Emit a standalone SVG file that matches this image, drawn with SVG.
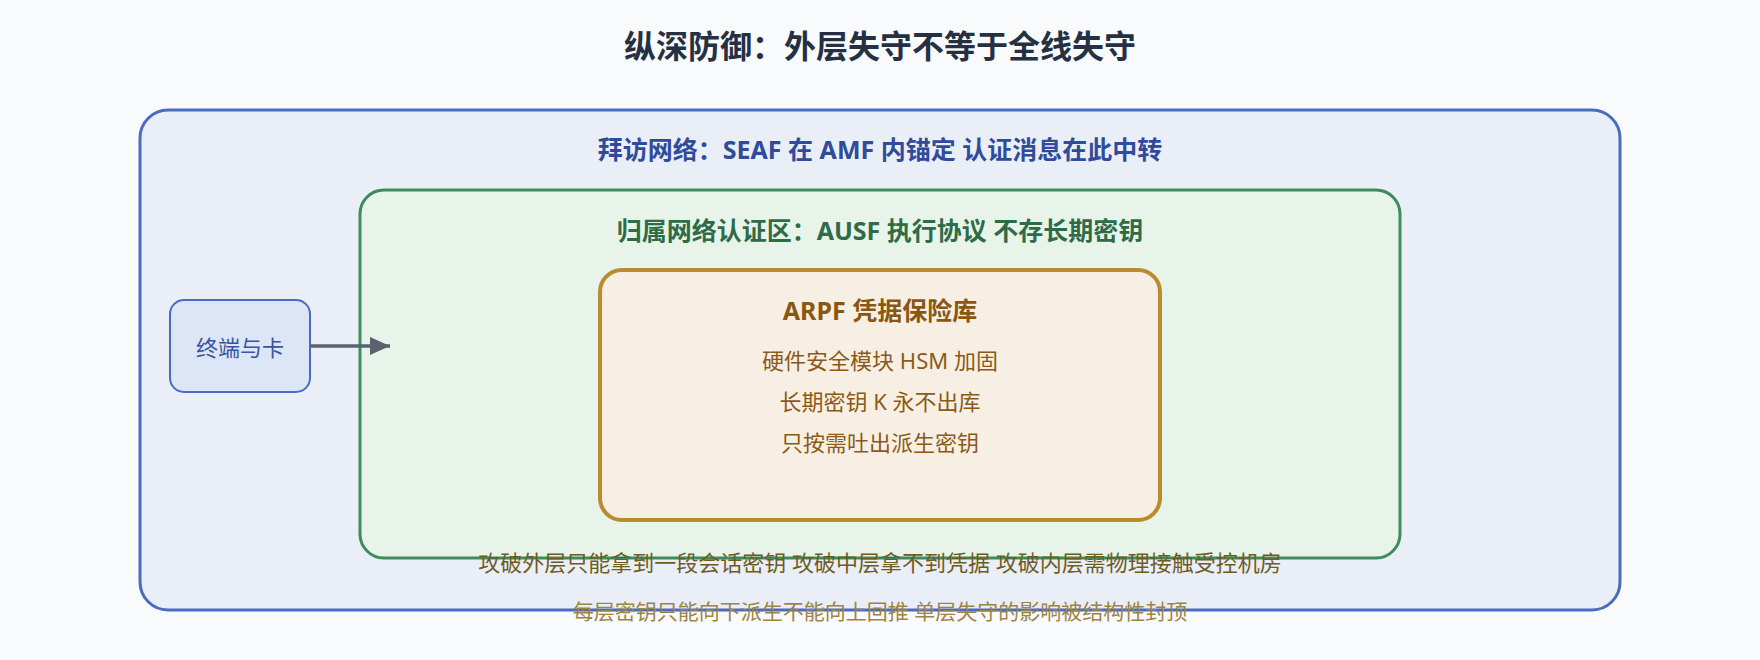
<svg xmlns="http://www.w3.org/2000/svg" width="1760" height="660" viewBox="0 0 1760 660">
<style>
text{font-family:"Noto Sans","Noto Sans CJK SC",sans-serif;text-anchor:middle}
.title{font-size:32px;font-weight:700;fill:#253142}
.lbl{font-size:25px;font-weight:700}
.body{font-size:22px;fill:#8B5A18}
.note1{font-size:22px;fill:#6E5C1E}
.note2{font-size:21px;fill:#9C8444}
</style>
<defs>
<marker id="ah" markerWidth="20" markerHeight="18" refX="20" refY="9" orient="auto" markerUnits="userSpaceOnUse">
<path d="M0,0 L20,9 L0,18 Z" fill="#5B6170"/>
</marker>
</defs>
<rect width="1760" height="660" fill="#F9FAFC"/>
<text class="title" x="880" y="58">纵深防御：外层失守不等于全线失守</text>
<g id="visited-network">
<rect x="140" y="110" width="1480" height="500" rx="28" fill="#EAEEF7" stroke="#4A6BBF" stroke-width="3"/>
<text class="lbl" x="880" y="159" fill="#2F4B9B">拜访网络：SEAF 在 AMF 内锚定 认证消息在此中转</text>
</g>
<g id="home-network">
<rect x="360" y="190" width="1040" height="368" rx="24" fill="#E8F3EA" stroke="#3E8C5E" stroke-width="3"/>
<text class="lbl" x="880" y="240" fill="#2E6B46">归属网络认证区：AUSF 执行协议 不存长期密钥</text>
</g>
<g id="arpf">
<rect x="600" y="270" width="560" height="250" rx="22" fill="#F7EFE3" stroke="#BA8C2E" stroke-width="4"/>
<text class="lbl" x="880" y="320" fill="#8A5712">ARPF 凭据保险库</text>
<text class="body" x="880" y="369">硬件安全模块 HSM 加固</text>
<text class="body" x="880" y="410">长期密钥 K 永不出库</text>
<text class="body" x="880" y="451">只按需吐出派生密钥</text>
</g>
<g id="ue">
<rect x="170" y="300" width="140" height="92" rx="14" fill="#DCE6F6" stroke="#4A6BBF" stroke-width="2"/>
<text x="240" y="356" font-size="22" fill="#3A55A0">终端与卡</text>
</g>
<g id="connectors">
<line x1="310" y1="346" x2="390" y2="346" stroke="#5B6170" stroke-width="3.5" marker-end="url(#ah)"/>
</g>
<g id="notes">
<text class="note1" x="880" y="571">攻破外层只能拿到一段会话密钥 攻破中层拿不到凭据 攻破内层需物理接触受控机房</text>
<text class="note2" x="880" y="619">每层密钥只能向下派生不能向上回推 单层失守的影响被结构性封顶</text>
</g>
</svg>
